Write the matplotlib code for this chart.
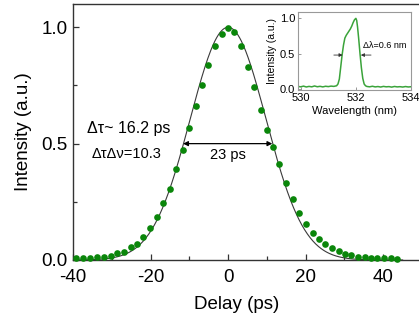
import numpy as np
import matplotlib
matplotlib.use("Agg")
import matplotlib.pyplot as plt
from matplotlib.ticker import MultipleLocator

plt.rcParams['font.family'] = ['Liberation Sans', 'DejaVu Sans']
plt.rcParams['axes.unicode_minus'] = False

# ---- main data: autocorrelation trace (dots) ----
delay_ps = [-39.2, -37.3, -35.6, -33.7, -32.0, -30.3, -28.6, -26.8, -25.1, -23.6,
            -21.9, -20.1, -18.4, -16.7, -15.1, -13.4, -11.7, -10.1, -8.3, -6.8,
            -5.1, -3.4, -1.6, 0.0, 1.6, 3.3, 5.0, 6.6, 8.4, 10.0,
            11.6, 13.2, 15.0, 16.7, 18.4, 20.0, 21.8, 23.5, 25.1, 26.8,
            28.5, 30.1, 31.7, 33.5, 35.2, 36.9, 38.5, 40.3, 42.0, 43.5]
intensity = [0.008, 0.008, 0.008, 0.011, 0.014, 0.017, 0.029, 0.036, 0.054, 0.069,
             0.097, 0.136, 0.183, 0.243, 0.303, 0.393, 0.474, 0.567, 0.661, 0.753,
             0.840, 0.921, 0.971, 0.997, 0.981, 0.921, 0.829, 0.743, 0.643, 0.557,
             0.486, 0.411, 0.329, 0.263, 0.203, 0.154, 0.117, 0.089, 0.067, 0.053,
             0.039, 0.026, 0.021, 0.014, 0.011, 0.010, 0.009, 0.008, 0.007, 0.006]

# Gaussian fit parameters
fit_fwhm = 23.0
fit_center = 0.0
fit_peak = 1.0
fit_range = (-40.0, 45.0)

# ---- inset data: spectrum ----
wavelength_nm = [529.9, 530.0, 530.1, 530.2, 530.3, 530.4, 530.5, 530.6, 530.7, 530.8,
                 530.9, 531.0, 531.1, 531.2, 531.3, 531.35, 531.4, 531.45, 531.5, 531.55,
                 531.6, 531.65, 531.7, 531.75, 531.8, 531.85, 531.9, 531.95, 532.0, 532.03,
                 532.06, 532.1, 532.15, 532.2, 532.25, 532.3, 532.35, 532.4, 532.5, 532.6,
                 532.7, 532.8, 532.9, 533.0, 533.1, 533.2, 533.3, 533.4, 533.5, 533.6,
                 533.7, 533.8, 533.9, 534.0]
spectrum = [0.035, 0.030, 0.040, 0.028, 0.036, 0.030, 0.042, 0.031, 0.037, 0.029,
            0.038, 0.033, 0.040, 0.036, 0.045, 0.07, 0.14, 0.31, 0.48, 0.62,
            0.72, 0.76, 0.79, 0.82, 0.85, 0.89, 0.94, 0.98, 1.0, 0.97,
            0.88, 0.72, 0.50, 0.30, 0.15, 0.07, 0.045, 0.035, 0.030, 0.038,
            0.029, 0.034, 0.027, 0.036, 0.030, 0.033, 0.026, 0.035, 0.029, 0.032,
            0.027, 0.034, 0.028, 0.031]

W, H = 419, 320
fig = plt.figure(figsize=(W / 100, H / 100), dpi=100)

ax = fig.add_axes([73 / W, (H - 260) / H, 349 / W, 256 / H])
t = np.linspace(fit_range[0], fit_range[1], 600)
fit = fit_peak * np.exp(-4 * np.log(2) * ((t - fit_center) / fit_fwhm) ** 2)
ax.plot(t, fit, color='#3a3a3a', lw=0.8, zorder=2)
ax.plot(delay_ps, intensity, 'o', color='#0a860a', ms=4.8, mec='none', zorder=3, clip_on=False)

ax.set_xlim(-40, 50)
ax.set_ylim(0, 1.1)
ax.xaxis.set_minor_locator(MultipleLocator(10))
ax.yaxis.set_minor_locator(MultipleLocator(0.25))
ax.set_xticks([-40, -20, 0, 20, 40])
ax.set_xticklabels(['-40', '-20', '0', '20', '40'])
ax.set_yticks([0.0, 0.5, 1.0])
ax.set_yticklabels(['0.0', '0.5', '1.0'])
ax.tick_params(which='both', direction='in', labelsize=13.5, color='#333333')
ax.tick_params(which='major', length=4, width=0.9, pad=4)
ax.tick_params(which='minor', length=3, width=0.9)
ax.tick_params(axis='x', pad=6.5)
for s in ax.spines.values():
    s.set_color('#333333')
    s.set_linewidth(1.0)

ax.set_xlabel('Delay (ps)', fontsize=13.5)
ax.set_ylabel('Intensity (a.u.)', fontsize=13.5)
ax.xaxis.set_label_coords((237 - 73) / 349, -(296 - 260) / 256)
ax.yaxis.set_label_coords(-(73 - 32) / 349, 0.5)

ax.annotate('', xy=(-11.6, 0.5), xytext=(11.4, 0.5),
            arrowprops=dict(arrowstyle='<|-|>', color='black', lw=0.9,
                            mutation_scale=7, shrinkA=0, shrinkB=0))
ax.text(0.0, 0.45, '23 ps', ha='center', va='center', fontsize=10.5)
ax.text(-36.4, 0.565, 'Δτ~ 16.2 ps', ha='left', va='center', fontsize=11.5)
ax.text(-35.2, 0.457, 'ΔτΔν=10.3', ha='left', va='center', fontsize=10.5)

# ---- inset ----
axi = fig.add_axes([298 / W, (H - 90) / H, 113 / W, 78 / H])
axi.plot(wavelength_nm, spectrum, color='#3aa33a', lw=1.1)
axi.set_xlim(529.9, 534.0)
axi.set_ylim(-0.015, 1.09)
axi.set_xticks([530, 532, 534])
axi.set_yticks([0.0, 0.5, 1.0])
axi.set_yticklabels(['0.0', '0.5', '1.0'])
axi.tick_params(direction='in', labelsize=8, length=2.5, width=0.6, color='#888888', pad=2)
for s in axi.spines.values():
    s.set_color('#999999')
    s.set_linewidth(0.8)
axi.set_xlabel('Wavelength (nm)', fontsize=8, labelpad=2)
axi.set_ylabel('Intensity (a.u.)', fontsize=7.5, labelpad=2)
axi.annotate('', xy=(531.52, 0.48), xytext=(531.2, 0.48),
             arrowprops=dict(arrowstyle='-|>', color='#333333', lw=0.6,
                             mutation_scale=5, shrinkA=0, shrinkB=0))
axi.annotate('', xy=(532.18, 0.48), xytext=(532.55, 0.48),
             arrowprops=dict(arrowstyle='-|>', color='#333333', lw=0.6,
                             mutation_scale=5, shrinkA=0, shrinkB=0))
axi.text(532.25, 0.61, 'Δλ=0.6 nm', fontsize=6.5, ha='left', va='center')

fig.savefig('out.png', dpi=100)
